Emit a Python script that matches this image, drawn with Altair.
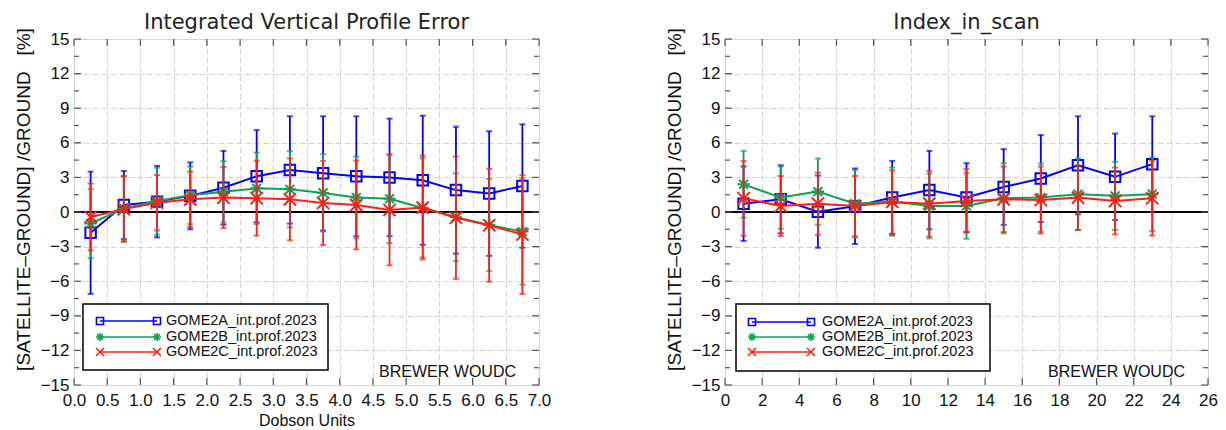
import altair as alt
import pandas as pd

SERIES = ["GOME2A_int.prof.2023", "GOME2B_int.prof.2023", "GOME2C_int.prof.2023"]
COLORS = ["#0000ff", "#12a058", "#ff1e14"]

# ---- left panel: Integrated Vertical Profile Error (x = Dobson Units)
dobson_units = [0.25, 0.75, 1.25, 1.75, 2.25, 2.75, 3.25, 3.75, 4.25, 4.75, 5.25, 5.75, 6.25, 6.75]
dob_a_mean = [-1.8, 0.6, 0.9, 1.4, 2.1, 3.1, 3.65, 3.35, 3.1, 3.0, 2.75, 1.9, 1.6, 2.25]
dob_a_sd = [5.3, 2.95, 3.1, 2.9, 3.2, 4.0, 4.65, 4.95, 5.2, 5.1, 5.6, 5.5, 5.4, 5.35]
dob_b_mean = [-1.0, 0.3, 0.95, 1.45, 1.75, 2.05, 1.97, 1.65, 1.25, 1.15, 0.35, -0.45, -1.13, -1.7]
dob_b_sd = [3.0, 2.8, 2.9, 2.5, 2.65, 3.1, 3.3, 3.35, 3.55, 3.85, 4.3, 3.8, 4.0, 4.6]
dob_c_mean = [-0.43, 0.25, 0.8, 1.1, 1.25, 1.2, 1.1, 0.78, 0.6, 0.17, 0.38, -0.5, -1.15, -1.95]
dob_c_sd = [2.9, 2.85, 2.4, 2.4, 2.65, 3.25, 3.55, 3.65, 3.85, 4.8, 4.5, 5.3, 4.9, 5.15]

# ---- right panel: Index_in_scan
scan_index = [1, 3, 5, 7, 9, 11, 13, 15, 17, 19, 21, 23]
scan_a_mean = [0.72, 1.1, 0.03, 0.5, 1.25, 1.9, 1.25, 2.17, 2.9, 4.05, 3.05, 4.15]
scan_a_sd = [3.23, 2.95, 3.13, 3.27, 3.18, 3.4, 2.98, 3.28, 3.77, 4.25, 3.75, 4.15]
scan_b_mean = [2.4, 1.25, 1.77, 0.72, 0.9, 0.52, 0.52, 1.19, 1.25, 1.54, 1.4, 1.54]
scan_b_sd = [2.9, 2.7, 2.87, 2.93, 2.96, 2.81, 2.84, 3.04, 2.95, 3.1, 2.95, 3.18]
scan_c_mean = [1.19, 0.52, 0.72, 0.52, 0.87, 0.72, 0.96, 1.1, 1.04, 1.25, 0.96, 1.19]
scan_c_sd = [3.24, 2.6, 2.7, 2.6, 2.75, 2.85, 2.75, 2.84, 2.9, 2.8, 2.9, 3.24]

y_ticks = [-15, -12, -9, -6, -3, 0, 3, 6, 9, 12, 15]
y_minor = [-13.5, -10.5, -7.5, -4.5, -1.5, 1.5, 4.5, 7.5, 10.5, 13.5]
dob_ticks = [0.0, 0.5, 1.0, 1.5, 2.0, 2.5, 3.0, 3.5, 4.0, 4.5, 5.0, 5.5, 6.0, 6.5, 7.0]
scan_ticks = [0, 2, 4, 6, 8, 10, 12, 14, 16, 18, 20, 22, 24, 26]

Y_TITLE = "[SATELLITE\u2013GROUND] /GROUND\u00a0\u00a0\u00a0[%]"
STAMP = "BREWER WOUDC"

LABEL_FONT = "Liberation Sans"
TITLE_FONT = "DejaVu Sans"
H = 346

SQUARE = "square"
ASTER = "M-1,0L1,0M0,-1L0,1M-0.72,-0.72L0.72,0.72M-0.72,0.72L0.72,-0.72"
XSYM = "M-1,-1L1,1M-1,1L1,-1"
SHAPES = [SQUARE, ASTER, XSYM]


def make_df(xs, means, sds):
    rows = []
    for s, m_list, sd_list in zip(SERIES, means, sds):
        for x, m, sd in zip(xs, m_list, sd_list):
            rows.append({"series": s, "x": x, "mean": m, "lo": m - sd, "hi": m + sd})
    return pd.DataFrame(rows)


def panel(df, W, xdom, xticks, xfmt, title, xtitle, leg):
    xs = alt.Scale(domain=xdom, nice=False, zero=False)
    ys = alt.Scale(domain=[-15, 15], nice=False, zero=False)
    xaxis_kw = dict(values=xticks, format=xfmt, grid=True, gridDash=[6, 3],
                    gridColor="#d2d2d2", gridWidth=1, domain=False, ticks=False,
                    labelPadding=7, labelFontSize=17, labelFont=LABEL_FONT,
                    labelColor="#111111", labelFlush=False, labelOverlap=False)
    if xtitle:
        xaxis_kw.update(title=xtitle, titleFont=LABEL_FONT, titleFontSize=16,
                        titleFontWeight="normal", titleColor="#111111", titlePadding=4)
    else:
        xaxis_kw.update(title=None)
    xaxis = alt.Axis(**xaxis_kw)
    yaxis = alt.Axis(values=y_ticks, format="d", grid=True, gridDash=[6, 3],
                     gridColor="#d2d2d2", gridWidth=1, domain=False, ticks=False,
                     labelPadding=5, labelFontSize=17, labelFont=LABEL_FONT,
                     labelColor="#111111", labelFlush=False, labelOverlap=False,
                     title=Y_TITLE, titleFont=LABEL_FONT, titleFontSize=19,
                     titleFontWeight="normal", titleColor="#111111", titlePadding=7,
                     titleY=H / 2 - 13)

    def X(f):
        return alt.X(f, scale=xs, axis=xaxis)

    def Y(f):
        return alt.Y(f, scale=ys, axis=yaxis)

    layers = []
    # base layer carrying the axes (invisible)
    layers.append(alt.Chart(df).mark_point(opacity=0).encode(x=X("x:Q"), y=Y("mean:Q")))

    # zero line
    zero_df = pd.DataFrame({"v": [0]})
    layers.append(alt.Chart(zero_df).mark_rule(color="black", strokeWidth=2).encode(y=Y("v:Q")))

    # inward ticks
    ymaj = pd.DataFrame({"v": y_ticks})
    ymin = pd.DataFrame({"v": y_minor})
    xmaj = pd.DataFrame({"v": xticks})
    tick_color = "#555555"
    for d, ln in ((ymaj, 7), (ymin, 5)):
        layers.append(alt.Chart(d).mark_rule(color=tick_color, strokeWidth=1.2).encode(
            y=Y("v:Q"), x=alt.value(0), x2=alt.value(ln)))
        layers.append(alt.Chart(d).mark_rule(color=tick_color, strokeWidth=1.2).encode(
            y=Y("v:Q"), x=alt.value(W), x2=alt.value(W - ln)))
    layers.append(alt.Chart(xmaj).mark_rule(color=tick_color, strokeWidth=1.2).encode(
        x=X("v:Q"), y=alt.value(0), y2=alt.value(7)))
    layers.append(alt.Chart(xmaj).mark_rule(color=tick_color, strokeWidth=1.2).encode(
        x=X("v:Q"), y=alt.value(H), y2=alt.value(H - 7)))

    # series
    for s, c, shp in zip(SERIES, COLORS, SHAPES):
        sub = alt.Chart(df).transform_filter(alt.datum.series == s)
        layers.append(sub.mark_rule(color=c, strokeWidth=1.8).encode(
            x=X("x:Q"), y=Y("lo:Q"), y2="hi:Q"))
        for f in ("lo", "hi"):
            layers.append(sub.mark_tick(color=c, orient="horizontal", size=6, thickness=2).encode(
                x=X("x:Q"), y=Y(f"{f}:Q")))
        layers.append(sub.mark_line(color=c, strokeWidth=2).encode(x=X("x:Q"), y=Y("mean:Q")))
        size = 110 if shp == SQUARE else 150
        layers.append(sub.mark_point(color=c, shape=shp, size=size, filled=False,
                                     strokeWidth=2, opacity=1).encode(
            x=X("x:Q"), y=Y("mean:Q")))

    # legend box
    one = pd.DataFrame({"k": [0]})
    bx0, bx1, by0, by1, lx0, lx1, tx, rows = leg
    layers.append(alt.Chart(one).mark_rect(fill="white", stroke="black", strokeWidth=1.5).encode(
        x=alt.value(bx0), x2=alt.value(bx1), y=alt.value(by0), y2=alt.value(by1)))
    for s, c, shp, ry in zip(SERIES, COLORS, SHAPES, rows):
        layers.append(alt.Chart(one).mark_rule(color=c, strokeWidth=1.6).encode(
            x=alt.value(lx0), x2=alt.value(lx1), y=alt.value(ry)))
        size = 50 if shp == SQUARE else 64
        for px in (lx0, lx1):
            layers.append(alt.Chart(one).mark_point(color=c, shape=shp, size=size, filled=False,
                                                    strokeWidth=1.6, opacity=1).encode(
                x=alt.value(px), y=alt.value(ry)))
        layers.append(alt.Chart(one).mark_text(align="left", baseline="middle", font=LABEL_FONT,
                                               fontSize=14.5, color="#111111").encode(
            x=alt.value(tx), y=alt.value(ry), text=alt.value(s)))

    # station stamp
    layers.append(alt.Chart(one).mark_text(align="right", baseline="alphabetic", font=LABEL_FONT,
                                           fontSize=16, color="#111111").encode(
        x=alt.value(W - 23), y=alt.value(H - 8), text=alt.value(STAMP)))

    return alt.layer(*layers).properties(
        width=W, height=H,
        title=alt.TitleParams(title, font=TITLE_FONT, fontSize=21, fontWeight="normal",
                              color="#222222", offset=6, dy=11, frame="group"))


df_left = make_df(dobson_units, [dob_a_mean, dob_b_mean, dob_c_mean],
                  [dob_a_sd, dob_b_sd, dob_c_sd])
df_right = make_df(scan_index, [scan_a_mean, scan_b_mean, scan_c_mean],
                   [scan_a_sd, scan_b_sd, scan_c_sd])

left = panel(df_left, 465, [0, 7], dob_ticks, ".1f", "Integrated Vertical Profile Error",
             "Dobson Units", (9, 254, 265, 331, 26, 83, 92, [282, 298, 313]))
right = panel(df_right, 483, [0, 26], scan_ticks, "d", "Index_in_scan",
              None, (11, 265, 265, 332, 27, 86, 97, [283, 298, 313]))

chart = alt.hconcat(left, right, spacing=186, bounds="flush").properties(
    padding={"left": 13, "top": 11, "right": 5, "bottom": 0}
).configure_view(stroke="#7f7f7f", strokeWidth=1.5).configure(background="white")

chart.save("out.html", embed_options={"renderer": "svg", "actions": False})
